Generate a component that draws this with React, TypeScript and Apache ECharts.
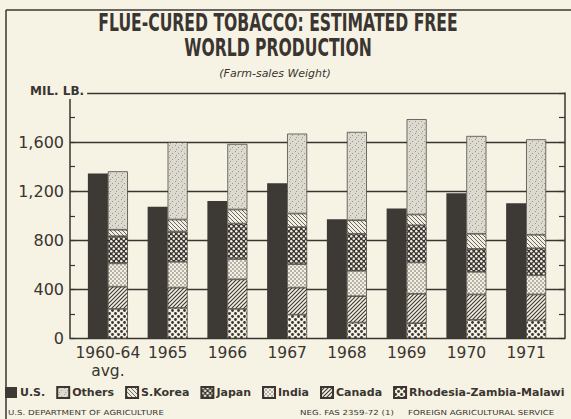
import React, { useEffect, useRef } from "react";
import * as echarts from "echarts";

const categories = ["1960-64\navg.", "1965", "1966", "1967", "1968", "1969", "1970", "1971"];
const usValues = [1345, 1073, 1120, 1265, 971, 1059, 1183, 1101];
const rhodesiaValues = [241, 249, 241, 194, 130, 125, 152, 147];
const canadaValues = [181, 165, 241, 220, 215, 239, 207, 212];
const indiaValues = [190, 211, 165, 192, 206, 256, 184, 156];
const japanValues = [222, 247, 289, 302, 302, 302, 187, 220];
const sKoreaValues = [52, 97, 115, 110, 110, 88, 123, 110];
const othersValues = [476, 631, 534, 651, 720, 777, 797, 778];
const legendOrder = ["U.S.", "Others", "S.Korea", "Japan", "India", "Canada", "Rhodesia-Zambia-Malawi"];

const INK = "#3a3531";
const BG = "#f6f3e4";
const FONT = "DejaVu Sans";

function makePattern(size: number, draw: (ctx: CanvasRenderingContext2D, s: number) => void) {
  const c = document.createElement("canvas");
  c.width = size;
  c.height = size;
  const ctx = c.getContext("2d") as CanvasRenderingContext2D;
  draw(ctx, size);
  return { image: c, repeat: "repeat", imageWidth: size, imageHeight: size } as any;
}

function dots(bg: string, fg: string, r: number, pts: number[][]) {
  return (ctx: CanvasRenderingContext2D, s: number) => {
    ctx.fillStyle = bg;
    ctx.fillRect(0, 0, s, s);
    ctx.fillStyle = fg;
    pts.forEach(([x, y]) => {
      ctx.beginPath();
      ctx.arc(x, y, r, 0, Math.PI * 2);
      ctx.fill();
    });
  };
}

function hatch(bg: string, fg: string, w: number, forward: boolean) {
  return (ctx: CanvasRenderingContext2D, s: number) => {
    ctx.fillStyle = bg;
    ctx.fillRect(0, 0, s, s);
    ctx.strokeStyle = fg;
    ctx.lineWidth = w;
    ctx.beginPath();
    for (let k = -1; k <= 1; k++) {
      if (forward) {
        ctx.moveTo(k * s - 1, s + 1);
        ctx.lineTo(k * s + s + 1, -1);
      } else {
        ctx.moveTo(k * s - 1, -1);
        ctx.lineTo(k * s + s + 1, s + 1);
      }
    }
    ctx.stroke();
  };
}

export default function App() {
  const ref = useRef<HTMLDivElement>(null);

  useEffect(() => {
    document.body.style.margin = "0";
    const chart = echarts.init(ref.current as HTMLDivElement, null, { renderer: "svg" });

    const pOthers = makePattern(6, (ctx, s) => {
      ctx.fillStyle = "#dcd9cf";
      ctx.fillRect(0, 0, s, s);
      ctx.fillStyle = "#9b978e";
      ctx.fillRect(1, 1, 1, 1);
      ctx.fillRect(4, 3, 1, 1);
      ctx.fillRect(2, 5, 1, 1);
    });
    const pKorea = makePattern(4, hatch("#f1eee2", "#6a6560", 1, false));
    const pJapan = makePattern(5, dots(INK, "#f4f1e4", 1.25, [[1.25, 1.25], [3.75, 3.75]]));
    const pIndia = makePattern(4, dots("#f3f0e3", "#5a5550", 0.75, [[1, 1], [3, 3]]));
    const pCanada = makePattern(4, hatch("#f3f0e3", INK, 1.1, true));
    const pRhod = makePattern(6, dots("#f4f1e4", INK, 1.4, [[1.5, 1.5], [4.5, 4.5]]));

    const seg = (name: string, data: number[], color: any) => ({
      name,
      type: "bar",
      stack: "foreign",
      xAxisIndex: 1,
      yAxisIndex: 2,
      barWidth: 20,
      barGap: "0%",
      data,
      itemStyle: { color, borderColor: INK, borderWidth: 0.7 },
    });

    const yLabel = (v: number) => (v === 2000 ? "" : v === 0 ? "0" : v.toLocaleString("en-US"));

    const footer = (text: string, x: number) => ({
      type: "text",
      x,
      y: 413,
      scaleX: 1.24,
      style: { text, fontFamily: FONT, fontSize: 7, fill: INK, textVerticalAlign: "middle" },
    });

    chart.setOption({
      animation: false,
      backgroundColor: BG,
      textStyle: { fontFamily: FONT, color: INK },
      grid: [
        { left: 70, right: 6, top: 93, bottom: 80.5 },
        { left: 78, right: 15, top: 93, bottom: 80.5 },
      ],
      xAxis: [
        { type: "value", gridIndex: 0, min: 0, max: 1, show: false },
        {
          type: "category",
          gridIndex: 1,
          data: categories,
          axisLine: { show: false },
          axisTick: { show: false },
          axisLabel: {
            interval: 0,
            color: INK,
            fontSize: 15.5,
            fontFamily: FONT,
            margin: 5,
            lineHeight: 18,
            hideOverlap: false,
          },
        },
      ],
      yAxis: [
        {
          type: "value",
          gridIndex: 0,
          position: "left",
          min: 0,
          max: 2000,
          interval: 400,
          axisLine: { show: true, lineStyle: { color: INK, width: 1.5 } },
          axisTick: { show: true, inside: true, length: 5, lineStyle: { color: INK, width: 1.2 } },
          minorTick: { show: true, splitNumber: 2, length: 5, lineStyle: { color: INK, width: 1.2 } },
          axisLabel: { color: INK, fontSize: 16, fontFamily: FONT, margin: 6, formatter: yLabel },
          splitLine: { show: true, lineStyle: { color: INK, width: 1.3 } },
        },
        {
          type: "value",
          gridIndex: 0,
          position: "right",
          min: 0,
          max: 2000,
          interval: 400,
          axisLine: { show: true, lineStyle: { color: INK, width: 1.5 } },
          axisTick: { show: true, inside: true, length: 6, lineStyle: { color: INK, width: 1.2 } },
          minorTick: { show: true, splitNumber: 2, length: 6, lineStyle: { color: INK, width: 1.2 } },
          axisLabel: { show: false },
          splitLine: { show: false },
        },
        { type: "value", gridIndex: 1, min: 0, max: 2000, show: false },
      ],
      legend: {
        data: legendOrder,
        left: 5,
        top: 386,
        width: 566,
        padding: 0,
        icon: "rect",
        itemWidth: 12,
        itemHeight: 11,
        itemGap: 11,
        textStyle: { color: INK, fontSize: 11, fontWeight: "bold", fontFamily: FONT, padding: [0, 0, 0, -2] },
      },
      series: [
        {
          name: "U.S.",
          type: "bar",
          stack: "us",
          xAxisIndex: 1,
          yAxisIndex: 2,
          barWidth: 20,
          barGap: "0%",
          data: usValues,
          itemStyle: { color: "#3d3934" },
        },
        seg("Rhodesia-Zambia-Malawi", rhodesiaValues, pRhod),
        seg("Canada", canadaValues, pCanada),
        seg("India", indiaValues, pIndia),
        seg("Japan", japanValues, pJapan),
        seg("S.Korea", sKoreaValues, pKorea),
        seg("Others", othersValues, pOthers),
      ],
      graphic: [
        { type: "line", shape: { x1: 6, y1: 10, x2: 571, y2: 10 }, style: { stroke: INK, lineWidth: 1.5 } },
        { type: "line", shape: { x1: 6, y1: 10, x2: 6, y2: 419 }, style: { stroke: INK, lineWidth: 1.5 } },
        {
          type: "text",
          x: 278,
          y: 23,
          scaleX: 0.625,
          style: {
            text: "FLUE-CURED TOBACCO: ESTIMATED FREE",
            fontFamily: FONT,
            fontWeight: "bold",
            fontSize: 25,
            fill: INK,
            textAlign: "center",
            textVerticalAlign: "middle",
          },
        },
        {
          type: "text",
          x: 278,
          y: 48,
          scaleX: 0.625,
          style: {
            text: "WORLD PRODUCTION",
            fontFamily: FONT,
            fontWeight: "bold",
            fontSize: 25,
            fill: INK,
            textAlign: "center",
            textVerticalAlign: "middle",
          },
        },
        {
          type: "text",
          x: 275,
          y: 73,
          style: {
            text: "(Farm-sales Weight)",
            fontFamily: FONT,
            fontStyle: "italic",
            fontSize: 11,
            fill: INK,
            textAlign: "center",
            textVerticalAlign: "middle",
          },
        },
        {
          type: "text",
          x: 28,
          y: 91,
          z: 100,
          style: {
            text: "MIL. LB.",
            fontFamily: FONT,
            fontWeight: "bold",
            fontSize: 12,
            fill: INK,
            textAlign: "left",
            textVerticalAlign: "middle",
            backgroundColor: BG,
            padding: [2, 3, 2, 2],
          },
        },
        footer("U.S. DEPARTMENT OF AGRICULTURE", 8),
        footer("NEG. FAS 2359-72 (1)", 300),
        footer("FOREIGN AGRICULTURAL SERVICE", 408),
      ],
    });

    return () => chart.dispose();
  }, []);

  return <div ref={ref} style={{ position: "fixed", left: 0, top: 0, width: 571, height: 419 }} />;
}
